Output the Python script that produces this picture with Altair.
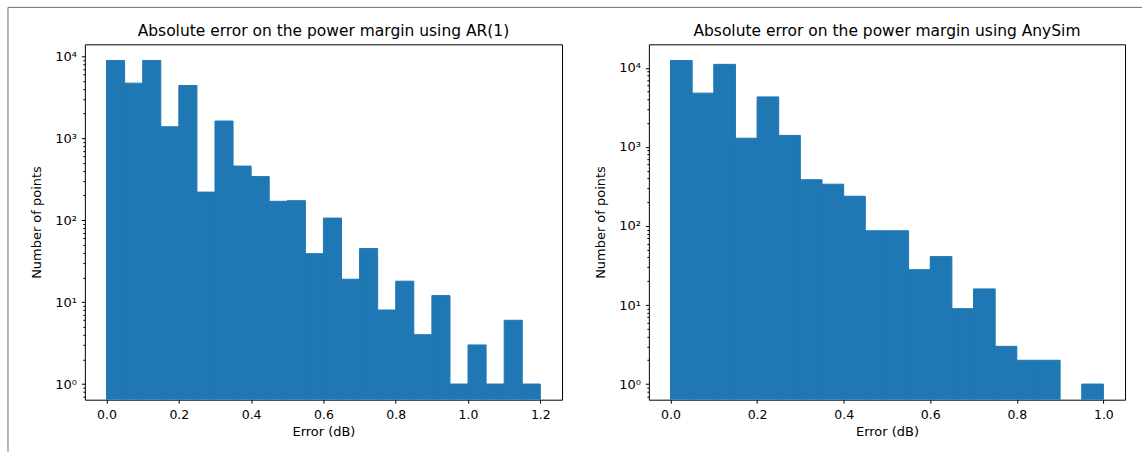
import altair as alt
import pandas as pd

# ---- data (bin width 0.05 dB) ----
ar1_bin_start = [round(0.05 * i, 2) for i in range(24)]
ar1_counts = [8900, 4700, 8900, 1380, 4400, 220, 1620, 457, 340, 170,
              173, 39, 106, 19, 45, 8, 18, 4, 12, 1, 3, 1, 6, 1]

anysim_bin_start = [round(0.05 * i, 2) for i in range(20)]
anysim_counts = [12400, 4800, 11100, 1290, 4300, 1400, 385, 338, 238, 87,
                 87, 28, 41, 9, 16, 3, 2, 2, 0, 1]

titles = ["Absolute error on the power margin using AR(1)",
          "Absolute error on the power margin using AnySim"]

y_ticks = [0.7, 0.8, 0.9, 1, 2, 3, 4, 5, 6, 7, 8, 9, 10, 20, 30, 40, 50, 60,
           70, 80, 90, 100, 200, 300, 400, 500, 600, 700, 800, 900, 1000,
           2000, 3000, 4000, 5000, 6000, 7000, 8000, 9000, 10000]

FONT = "DejaVu Sans"
BLUE = "#1f77b4"
MAJOR = "abs(log(datum.value)/LN10 - round(log(datum.value)/LN10)) < 0.000001"
LABEL = ("abs(log(datum.value)/LN10 - round(log(datum.value)/LN10)) < 0.000001 ? "
         "'10' + ['⁰','¹','²','³','⁴','⁵'][round(log(datum.value)/LN10)] : ''")


def panel(starts, counts, title, xdom, xvals, ydom, width, frame=False):
    df = pd.DataFrame({"start": starts, "count": counts})
    df["end"] = (df["start"] + 0.05).round(2)
    bars = alt.Chart(df).transform_filter("datum.count > 0").mark_rect(
        color=BLUE, clip=True, stroke=BLUE, strokeWidth=1
    ).encode(
        x=alt.X("start:Q",
                scale=alt.Scale(domain=xdom, nice=False, zero=False),
                axis=alt.Axis(values=xvals, format=".1f", title="Error (dB)",
                              grid=False, domain=False, tickSize=3.5,
                              tickColor="black", labelColor="black",
                              labelFont=FONT, labelFontSize=12.5,
                              labelPadding=5, labelFlush=False,
                              titleFont=FONT, titleFontSize=13,
                              titleFontWeight="normal", titleColor="black",
                              titlePadding=5)),
        x2="end:Q",
        y=alt.Y("count:Q",
                scale=alt.Scale(type="log", domain=ydom, nice=False),
                axis=alt.Axis(values=y_ticks, labelExpr=LABEL,
                              tickSize={"condition": {"test": MAJOR, "value": 3.5},
                                        "value": 2},
                              title="Number of points", grid=False, domain=False,
                              tickColor="black", labelColor="black",
                              labelFont=FONT, labelFontSize=13,
                              labelPadding=5, labelOverlap=False, labelFlush=False,
                              titleFont=FONT, titleFontSize=13,
                              titleFontWeight="normal", titleColor="black",
                              titlePadding=11)),
        y2=alt.datum(0.1),
    )
    one = alt.Chart(pd.DataFrame({"t": [title]}))
    ttl = one.mark_text(font=FONT, fontSize=15.5, color="black",
                        align="center", baseline="alphabetic").encode(
        x=alt.value(width / 2), y=alt.value(-8), text="t:N")
    layers = [bars, ttl]
    if frame:
        top = one.mark_rule(color="#6e6e6e", strokeWidth=1).encode(
            x=alt.value(-77), x2=alt.value(1059), y=alt.value(-37))
        left = one.mark_rule(color="#6e6e6e", strokeWidth=1).encode(
            x=alt.value(-77), y=alt.value(-37), y2=alt.value(408))
        layers += [top, left]
    return alt.layer(*layers).properties(width=width, height=356)


left_panel = panel(ar1_bin_start, ar1_counts, titles[0],
                   [-0.06, 1.26], [0, 0.2, 0.4, 0.6, 0.8, 1.0, 1.2],
                   [0.644, 14000], 478, frame=True)
right_panel = panel(anysim_bin_start, anysim_counts, titles[1],
                    [-0.05, 1.05], [0, 0.2, 0.4, 0.6, 0.8, 1.0],
                    [0.634, 19900], 477)

chart = alt.hconcat(left_panel, right_panel, spacing=87, bounds="flush").properties(
    padding={"left": 7, "top": 6, "right": 0, "bottom": 0},
    background="white",
).configure_view(stroke="black", strokeWidth=1)

chart.save("out.html", embed_options={"renderer": "svg", "actions": False})
